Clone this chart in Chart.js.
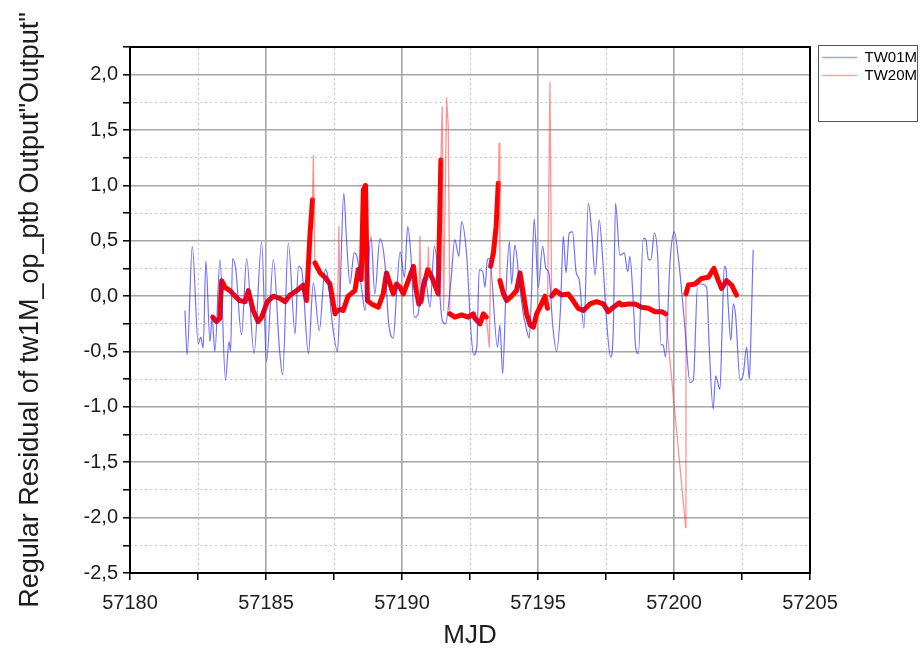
<!DOCTYPE html>
<html>
<head>
<meta charset="utf-8">
<script src="https://cdn.jsdelivr.net/npm/chart.js@4.4.1/dist/chart.umd.min.js"></script>
<style>
html, body { margin: 0; padding: 0; background: #fff; }
#wrap { width: 920px; height: 653px; }
</style>
</head>
<body>
<div id="wrap"><canvas id="residuals"></canvas></div>
<script>
var seriesNames = ['TW01M', 'TW20M'];

// TW01M residuals
var tw01mMjd = [57182.02, 57182.10, 57182.29, 57182.51, 57182.60, 57182.69, 57182.79, 57182.94, 57183.02, 57183.12,
	57183.31, 57183.51, 57183.64, 57183.70, 57183.77, 57183.89, 57184.10, 57184.29, 57184.56, 57184.84,
	57185.02, 57185.27, 57185.49, 57185.61, 57185.82, 57186.07, 57186.19, 57186.31, 57186.56, 57186.74,
	57186.96, 57187.17, 57187.25, 57187.44, 57187.63, 57187.72, 57187.86, 57187.96, 57188.09, 57188.24,
	57188.33, 57188.51, 57188.64, 57188.86, 57189.00, 57189.19, 57189.38, 57189.50, 57189.68, 57189.80,
	57189.93, 57190.09, 57190.21, 57190.33, 57190.45, 57190.58, 57190.75, 57190.85, 57191.03, 57191.19,
	57191.33, 57191.48, 57191.60, 57191.80, 57191.94, 57192.09, 57192.19, 57192.38, 57192.54, 57192.64,
	57192.75, 57192.84, 57192.97, 57193.05, 57193.14, 57193.22, 57193.51, 57193.60, 57193.70, 57193.82,
	57193.95, 57194.03, 57194.15, 57194.31, 57194.44, 57194.56, 57194.68, 57194.76, 57194.86, 57195.01,
	57195.17, 57195.29, 57195.40, 57195.54, 57195.68, 57195.83, 57195.93, 57196.03, 57196.15, 57196.27,
	57196.40, 57196.52, 57196.69, 57196.85, 57196.97, 57197.10, 57197.25, 57197.38, 57197.52, 57197.67,
	57197.77, 57197.85, 57198.01, 57198.17, 57198.30, 57198.38, 57198.50, 57198.59, 57198.69, 57198.87,
	57198.96, 57199.06, 57199.15, 57199.28, 57199.40, 57199.52, 57199.60, 57199.69, 57199.85, 57200.01,
	57200.18, 57200.40, 57200.59, 57200.71, 57200.87, 57201.01, 57201.20, 57201.29, 57201.44, 57201.53,
	57201.69, 57201.77, 57201.85, 57201.91, 57201.99, 57202.09, 57202.18, 57202.26, 57202.43, 57202.55,
	57202.67, 57202.77, 57202.83, 57202.91];
var tw01mRes = [-0.13, -0.53, 0.45, -0.43, -0.37, -0.47, 0.32, -0.41, -0.19, -0.50,
	0.33, -0.76, -0.41, -0.50, 0.34, 0.24, -0.35, 0.34, -0.52, 0.49,
	-0.59, 0.33, -0.46, -0.71, 0.48, -0.34, 0.27, 0.24, -0.52, 0.12,
	-0.31, 0.24, 0.21, -0.25, -0.50, 0.00, 0.93, 0.51, 0.11, 0.39,
	0.37, 0.08, -0.13, 0.54, 0.02, 0.52, 0.27, -0.22, -0.38, 0.02,
	0.40, 0.17, 0.63, 0.36, -0.19, -0.17, 0.14, 0.17, -0.10, 0.45,
	0.21, -0.22, -0.25, 0.14, 0.51, 0.36, 0.67, 0.36, -0.34, -0.53,
	-0.46, 0.24, 0.22, 0.08, 0.33, 0.34, -0.46, -0.26, -0.70, 0.02,
	0.49, 0.11, 0.46, 0.14, -0.13, -0.28, -0.38, 0.02, 0.70, 0.08,
	0.45, 0.25, 0.21, -0.26, -0.50, -0.10, 0.54, 0.21, 0.57, 0.58,
	0.22, 0.14, -0.29, 0.84, 0.60, 0.19, 0.69, 0.33, -0.22, -0.55,
	-0.28, 0.84, 0.37, 0.39, 0.22, 0.36, -0.04, -0.46, -0.52, 0.52,
	0.52, 0.33, 0.33, 0.57, 0.36, -0.44, -0.44, -0.55, 0.30, 0.58,
	0.30, -0.28, -0.78, -0.76, 0.11, 0.11, 0.08, -0.43, -1.02, -0.72,
	-0.84, -0.28, 0.27, 0.25, -0.07, -0.40, -0.07, -0.16, -0.76, -0.70,
	-0.46, -0.75, -0.34, 0.42];

// TW20M residuals
var tw20mMjd = [57183.04, 57183.18, 57183.30, 57183.37, 57183.49, 57183.68, 57183.86, 57184.04, 57184.23, 57184.35,
	57184.53, 57184.71, 57184.84, 57185.05, 57185.27, 57185.51, 57185.70, 57185.88, 57186.13, 57186.37,
	57186.49, 57186.62, 57186.71, 57186.74, 57186.80, 57186.99, 57187.17, 57187.35, 57187.54, 57187.63,
	57187.68, 57187.72, 57187.84, 57188.02, 57188.27, 57188.39, 57188.50, 57188.58, 57188.66, 57188.73,
	57188.88, 57189.13, 57189.31, 57189.43, 57189.56, 57189.68, 57189.80, 57189.93, 57190.05, 57190.23,
	57190.42, 57190.50, 57190.62, 57190.66, 57190.70, 57190.78, 57190.95, 57190.97, 57191.00, 57191.15,
	57191.33, 57191.43, 57191.48, 57191.53, 57191.64, 57191.70, 57191.76, 57191.95, 57192.19, 57192.43,
	57192.62, 57192.68, 57192.87, 57192.99, 57193.10, 57193.21, 57193.26, 57193.36, 57193.46, 57193.54,
	57193.57, 57193.60, 57193.73, 57193.85, 57194.03, 57194.21, 57194.34, 57194.46, 57194.58, 57194.71,
	57194.83, 57194.95, 57195.13, 57195.26, 57195.35, 57195.44, 57195.50, 57195.66, 57195.87, 57196.11,
	57196.29, 57196.48, 57196.67, 57196.91, 57197.15, 57197.40, 57197.58, 57197.77, 57197.99, 57198.07,
	57198.32, 57198.57, 57198.81, 57199.06, 57199.30, 57199.55, 57199.69, 57200.43, 57200.44, 57200.53,
	57200.77, 57201.01, 57201.26, 57201.47, 57201.63, 57201.75, 57201.93, 57202.12, 57202.30];
var tw20mRes = [-0.19, -0.23, -0.20, 0.14, 0.08, 0.05, 0.00, -0.04, -0.05, 0.05,
	-0.13, -0.23, -0.19, -0.05, 0.00, -0.02, -0.05, 0.01, 0.05, 0.10,
	-0.04, 0.57, 0.87, 1.27, 0.30, 0.21, 0.17, 0.11, -0.16, -0.13,
	0.63, -0.12, -0.13, 0.00, 0.05, 0.24, 0.15, 0.96, 1.00, -0.04,
	-0.07, -0.10, 0.02, 0.21, 0.11, 0.02, 0.11, 0.08, 0.02, 0.14,
	0.27, 0.08, -0.07, 0.54, -0.05, 0.08, 0.24, 0.44, 0.22, 0.14,
	0.02, 1.23, 1.71, -0.13, 1.79, 1.53, -0.16, -0.19, -0.17, -0.19,
	-0.16, -0.20, -0.25, -0.16, -0.19, -0.46, 0.27, 0.39, 0.63, 1.02,
	1.38, 0.14, 0.02, -0.04, 0.00, 0.05, 0.21, 0.02, -0.16, -0.26,
	-0.28, -0.16, -0.07, 0.00, -0.11, 1.93, 0.00, 0.05, 0.01, 0.02,
	-0.04, -0.11, -0.13, -0.07, -0.05, -0.07, -0.14, -0.10, -0.06, -0.08,
	-0.07, -0.07, -0.10, -0.11, -0.14, -0.14, -0.16, -2.09, 0.02, 0.10,
	0.11, 0.16, 0.17, 0.25, 0.14, 0.07, 0.14, 0.10, 0.01];

// labelled ticks
var xTickLabels = [57180, 57185, 57190, 57195, 57200, 57205];
var yTickLabels = [-2.5, -2.0, -1.5, -1.0, -0.5, 0.0, 0.5, 1.0, 1.5, 2.0];

function points(xs, ys) {
	return xs.map(function (x, i) { return { x: x, y: ys[i] }; });
}
function isLabelled(list, v) {
	return list.some(function (t) { return Math.abs(t - v) < 1e-6; });
}
function comma(v) {
	return v.toFixed(1).replace('.', ',');
}

var majorGrid = '#a6a6a6';
var minorGrid = '#c8c8c8';
var txt = '#1c1c1c';
var legendLines = ['rgba(90,90,255,0.55)', 'rgba(255,110,110,0.6)'];

// a lone outlier sticks out from both neighbours the same way
function isSpike(ys, i) {
	if (i <= 0 || i >= ys.length - 1) return false;
	var a = ys[i] - ys[i - 1], b = ys[i] - ys[i + 1];
	return a * b > 0 && Math.min(Math.abs(a), Math.abs(b)) > 0.18;
}
function thinSegment(ctx) {
	var i0 = ctx.p0DataIndex, i1 = ctx.p1DataIndex;
	return isSpike(tw20mRes, i0) || isSpike(tw20mRes, i1) ||
		Math.max(tw20mRes[i0], tw20mRes[i1]) > 1.3;
}

var legendBox = {
	id: 'legendBox',
	afterDraw: function (chart) {
		var lg = chart.legend, c = chart.ctx;
		c.save();
		c.strokeStyle = '#555';
		c.lineWidth = 1;
		c.strokeRect(Math.round(lg.left) - 0.5, Math.round(lg.top) - 1.5, 99, 76);
		c.restore();
	}
};

var config = {
	type: 'line',
	data: {
		datasets: [
			{
				label: seriesNames[0],
				data: points(tw01mMjd, tw01mRes),
				borderColor: 'rgba(40,40,255,0.66)',
				borderWidth: 1.2,
				pointRadius: 0,
				cubicInterpolationMode: 'monotone',
				fill: false
			},
			{
				label: seriesNames[1],
				data: points(tw20mMjd, tw20mRes),
				borderColor: '#ff0000',
				borderWidth: 5,
				borderJoinStyle: 'round',
				borderCapStyle: 'round',
				pointRadius: 0,
				fill: false,
				segment: {
					borderWidth: function (ctx) { return thinSegment(ctx) ? 1.3 : undefined; },
					borderColor: function (ctx) { return thinSegment(ctx) ? 'rgba(255,60,60,0.55)' : undefined; }
				}
			}
		]
	},
	options: {
		responsive: true,
		maintainAspectRatio: false,
		animation: false,
		layout: { padding: { left: 0, top: 0, right: -7, bottom: 0 } },
		plugins: {
			tooltip: { enabled: false },
			legend: {
				display: true,
				position: 'right',
				align: 'start',
				fullSize: false,
				labels: {
					usePointStyle: true,
					pointStyleWidth: 35,
					padding: 3,
					color: '#000',
					font: { family: 'Liberation Sans', size: 15 },
					generateLabels: function (chart) {
						var items = Chart.defaults.plugins.legend.labels.generateLabels(chart);
						items.forEach(function (it, i) {
							it.pointStyle = 'line';
							it.lineWidth = 1.3;
							it.strokeStyle = legendLines[i];
						});
						return items;
					}
				}
			}
		},
		scales: {
			x: {
				type: 'linear',
				position: 'bottom',
				min: 57180,
				max: 57205,
				afterFit: function (s) { s.height = 80; },
				ticks: {
					stepSize: 2.5,
					autoSkip: false,
					maxRotation: 0,
					padding: 11,
					color: txt,
					font: { family: 'Liberation Sans', size: 20 },
					callback: function (v) { return isLabelled(xTickLabels, v) ? String(v) : ''; }
				},
				grid: {
					color: function (c) { return c.tick && isLabelled(xTickLabels, c.tick.value) ? majorGrid : 'rgba(0,0,0,0)'; },
					lineWidth: 1.6,
					tickColor: '#000',
					tickLength: 7,
					tickWidth: 1.5
				},
				border: { color: '#000', width: 2 },
				title: {
					display: true,
					text: 'MJD',
					color: txt,
					font: { family: 'Liberation Sans', size: 26 },
					padding: { top: 0, bottom: 2 }
				}
			},
			x2: {
				type: 'linear',
				position: 'top',
				min: 57180,
				max: 57205,
				afterFit: function (s) { s.height = 47; },
				ticks: { display: false, stepSize: 2.5 },
				grid: {
					color: function (c) { return c.tick && isLabelled(xTickLabels, c.tick.value) ? 'rgba(0,0,0,0)' : minorGrid; },
					lineWidth: 1,
					drawTicks: false
				},
				border: { color: '#000', width: 2, dash: [2, 3] }
			},
			y: {
				type: 'linear',
				position: 'left',
				min: -2.5,
				max: 2.25,
				afterFit: function (s) { s.width = 130; },
				ticks: {
					stepSize: 0.25,
					autoSkip: false,
					padding: 5,
					color: txt,
					font: { family: 'Liberation Sans', size: 20 },
					callback: function (v) { return isLabelled(yTickLabels, v) ? comma(v) : ''; }
				},
				grid: {
					color: function (c) { return c.tick && isLabelled(yTickLabels, c.tick.value) ? majorGrid : 'rgba(0,0,0,0)'; },
					lineWidth: 1.6,
					tickColor: '#000',
					tickLength: 7,
					tickWidth: 1.5
				},
				border: { color: '#000', width: 2 },
				title: {
					display: true,
					text: 'Regular Residual of tw1M_op_ptb Output"Output"',
					color: txt,
					font: { family: 'Liberation Sans', size: 27 },
					padding: { top: 14, bottom: 0 }
				}
			},
			y2: {
				type: 'linear',
				position: 'right',
				min: -2.5,
				max: 2.25,
				afterFit: function (s) { s.width = 9; },
				ticks: { display: false, stepSize: 0.25 },
				grid: {
					color: function (c) { return c.tick && isLabelled(yTickLabels, c.tick.value) ? 'rgba(0,0,0,0)' : minorGrid; },
					lineWidth: 1,
					drawTicks: false
				},
				border: { color: '#000', width: 2, dash: [2, 3] }
			}
		}
	},
	plugins: [legendBox]
};

window.onload = function () {
	var ctx = document.getElementById('residuals').getContext('2d');
	window.residualChart = new Chart(ctx, config);
};
</script>
</body>
</html>
